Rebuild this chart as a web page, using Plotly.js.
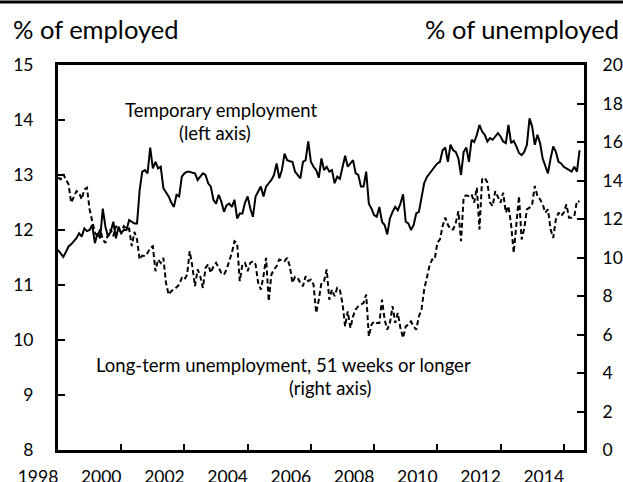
<!DOCTYPE html>
<html><head><meta charset="utf-8">
<script src="https://cdn.plot.ly/plotly-3.0.1.min.js"></script>
<style>html,body{margin:0;padding:0;background:#fff;}</style>
</head><body>
<div id="chart" style="width:623px;height:482px;"></div>
<script>
// Monthly data, January 1998 to July 2014
const startYear = 1998;
const temporaryEmployment = [
11.64,11.58,11.51,11.60,11.70,11.74,11.79,11.85,11.94,11.88,12.03,11.98,
12.00,12.09,11.76,11.94,11.85,12.39,12.06,11.88,11.97,12.15,11.85,12.06,
11.94,12.00,12.00,12.18,12.15,12.12,12.12,12.73,13.06,13.09,13.03,13.50,
13.12,13.24,13.12,13.15,12.76,12.68,12.61,12.50,12.42,12.64,12.61,12.97,
13.03,13.06,13.06,13.04,13.03,12.91,12.98,13.03,13.00,12.85,12.79,12.55,
12.48,12.64,12.52,12.33,12.45,12.48,12.42,12.55,12.21,12.30,12.30,12.50,
12.61,12.39,12.24,12.61,12.70,12.79,12.61,12.79,12.85,12.91,13.00,13.21,
12.94,13.09,13.39,13.27,13.25,13.24,13.06,13.00,12.94,13.24,13.27,13.61,
13.24,13.15,13.09,12.95,13.30,13.09,13.15,13.06,13.09,12.85,12.97,12.93,
13.12,13.35,13.15,13.21,13.27,13.03,13.00,12.79,12.79,13.06,12.48,12.39,
12.27,12.24,12.42,12.15,12.09,11.92,12.21,12.33,12.42,12.36,12.48,12.65,
12.15,12.12,12.00,12.09,12.30,12.33,12.60,12.85,12.96,13.03,13.09,13.15,
13.21,13.24,13.45,13.50,13.24,13.55,13.45,13.42,13.30,13.00,13.42,13.50,
13.24,13.64,13.60,13.73,13.91,13.79,13.73,13.61,13.67,13.64,13.70,13.76,
13.70,13.61,13.58,13.91,13.58,13.62,13.52,13.40,13.36,13.42,13.55,14.03,
13.88,13.55,13.73,13.58,13.30,13.15,13.03,13.30,13.52,13.42,13.24,13.21,
13.15,13.12,13.09,13.06,13.15,13.06,13.45
];
const longTermUnemployment = [
14.15,14.06,14.32,14.06,13.80,12.85,13.19,13.45,13.37,13.02,13.54,13.63,
12.50,11.81,11.28,11.11,11.46,10.94,10.76,11.20,11.46,11.11,11.63,11.46,
11.30,11.63,11.46,11.50,10.59,11.33,10.94,9.90,10.10,10.07,10.24,10.50,
10.59,9.29,9.90,9.72,9.98,8.68,8.07,8.25,8.33,8.45,8.59,8.94,
8.85,9.11,10.33,9.55,8.51,9.38,9.03,8.42,9.46,9.64,9.20,9.55,
9.72,9.46,9.20,9.11,9.38,9.81,10.24,10.85,10.76,8.77,9.64,9.72,
9.29,9.72,9.81,9.64,8.68,8.33,9.03,9.98,7.73,9.11,9.38,9.55,
9.90,9.85,9.81,9.98,9.55,8.68,9.00,8.94,8.68,8.51,9.03,8.77,
8.85,8.60,7.12,7.80,8.68,8.77,9.38,7.81,8.33,7.99,8.42,8.33,
7.60,6.42,7.20,6.34,6.94,7.30,7.47,7.55,7.64,8.07,5.90,6.51,
6.68,6.60,6.60,7.81,6.77,6.25,6.60,7.47,6.60,7.12,6.34,5.82,
6.42,6.51,6.68,6.42,6.25,6.94,7.29,8.33,9.00,9.55,9.90,9.90,
10.76,10.94,11.63,12.07,11.70,11.46,11.46,11.80,12.41,10.85,13.15,13.23,
13.19,13.28,12.85,13.63,11.46,14.06,14.15,13.89,12.85,12.67,13.45,13.19,
12.85,13.37,12.33,12.67,11.72,10.24,11.80,13.19,10.94,11.50,12.50,12.59,
12.76,13.72,13.19,13.02,12.76,12.33,12.50,11.46,11.02,11.98,12.33,12.15,
12.33,12.76,12.07,12.07,12.15,12.93,12.90
];
const xTickYears = [1998,2000,2002,2004,2006,2008,2010,2012,2014];
const leftTicks = [8,9,10,11,12,13,14,15];
const rightTicks = [0,2,4,6,8,10,12,14,16,18,20];

const months = temporaryEmployment.map((_, i) => startYear + i / 12);

const FONT = 'Lato, "Open Sans", sans-serif';
const W = 623, H = 482;
const M = {l: 58, r: 39, t: 65, b: 32};
const PW = W - M.l - M.r, PH = H - M.t - M.b;
const px = p => (p - M.l) / PW;
const py = p => (H - M.b - p) / PH;

const traces = [
  {x: months, y: temporaryEmployment, type: 'scatter', mode: 'lines',
   line: {color: '#000', width: 2}, yaxis: 'y', hoverinfo: 'skip'},
  {x: months, y: longTermUnemployment, type: 'scatter', mode: 'lines',
   line: {color: '#000', width: 2, dash: '5px,3px'}, yaxis: 'y2', hoverinfo: 'skip'}
];

const layout = {
  width: W, height: H, margin: M, showlegend: false,
  paper_bgcolor: '#fff', plot_bgcolor: '#fff',
  font: {family: FONT, color: '#000', size: 17},
  xaxis: {range: [1998, 2014.64], tickvals: xTickYears, ticktext: xTickYears.map(String),
    ticks: 'inside', ticklen: 6, tickwidth: 2, tickcolor: '#000',
    showline: true, linewidth: 3, linecolor: '#000', mirror: true,
    showgrid: false, zeroline: false, ticklabelstandoff: 9, ticklabelshift: -20,
    tickfont: {size: 17.5, family: FONT}},
  yaxis: {range: [8, 15], tickvals: leftTicks, ticks: 'inside', ticklen: 7, tickwidth: 2,
    tickcolor: '#000', showline: true, linewidth: 3, linecolor: '#000',
    showgrid: false, zeroline: false, ticklabelstandoff: 18,
    tickfont: {size: 17.5, family: FONT}},
  yaxis2: {range: [0, 20], tickvals: rightTicks, overlaying: 'y', side: 'right',
    ticks: 'inside', ticklen: 7, tickwidth: 2, tickcolor: '#000',
    showline: true, linewidth: 3, linecolor: '#000',
    showgrid: false, zeroline: false, ticklabelstandoff: 12,
    tickfont: {size: 17.5, family: FONT}},
  shapes: [
    {type: 'line', xref: 'paper', yref: 'paper', x0: px(0), x1: px(623), y0: py(2), y1: py(2),
     line: {color: '#000', width: 3}}
  ],
  annotations: [
    {text: '% of employed', xref: 'paper', yref: 'paper', x: px(11), y: py(29),
     xanchor: 'left', yanchor: 'middle', showarrow: false, font: {size: 25.5, family: FONT}},
    {text: '% of unemployed', xref: 'paper', yref: 'paper', x: px(621), y: py(29),
     xanchor: 'right', yanchor: 'middle', showarrow: false, font: {size: 25.5, family: FONT}},
    {text: 'Temporary employment', xref: 'paper', yref: 'paper',
     x: px(221), y: py(110), xanchor: 'center', yanchor: 'middle',
     showarrow: false, font: {size: 18.5, family: FONT}},
    {text: '(left axis)', xref: 'paper', yref: 'paper',
     x: px(215), y: py(133), xanchor: 'center', yanchor: 'middle',
     showarrow: false, font: {size: 18.5, family: FONT}},
    {text: 'Long-term unemployment, 51 weeks or longer', xref: 'paper', yref: 'paper',
     x: px(283), y: py(365), xanchor: 'center', yanchor: 'middle',
     showarrow: false, font: {size: 18.5, family: FONT}},
    {text: '(right axis)', xref: 'paper', yref: 'paper',
     x: px(330), y: py(388), xanchor: 'center', yanchor: 'middle',
     showarrow: false, font: {size: 18.5, family: FONT}}
  ]
};

Plotly.newPlot('chart', traces, layout, {staticPlot: true, displayModeBar: false});
</script>
</body></html>
